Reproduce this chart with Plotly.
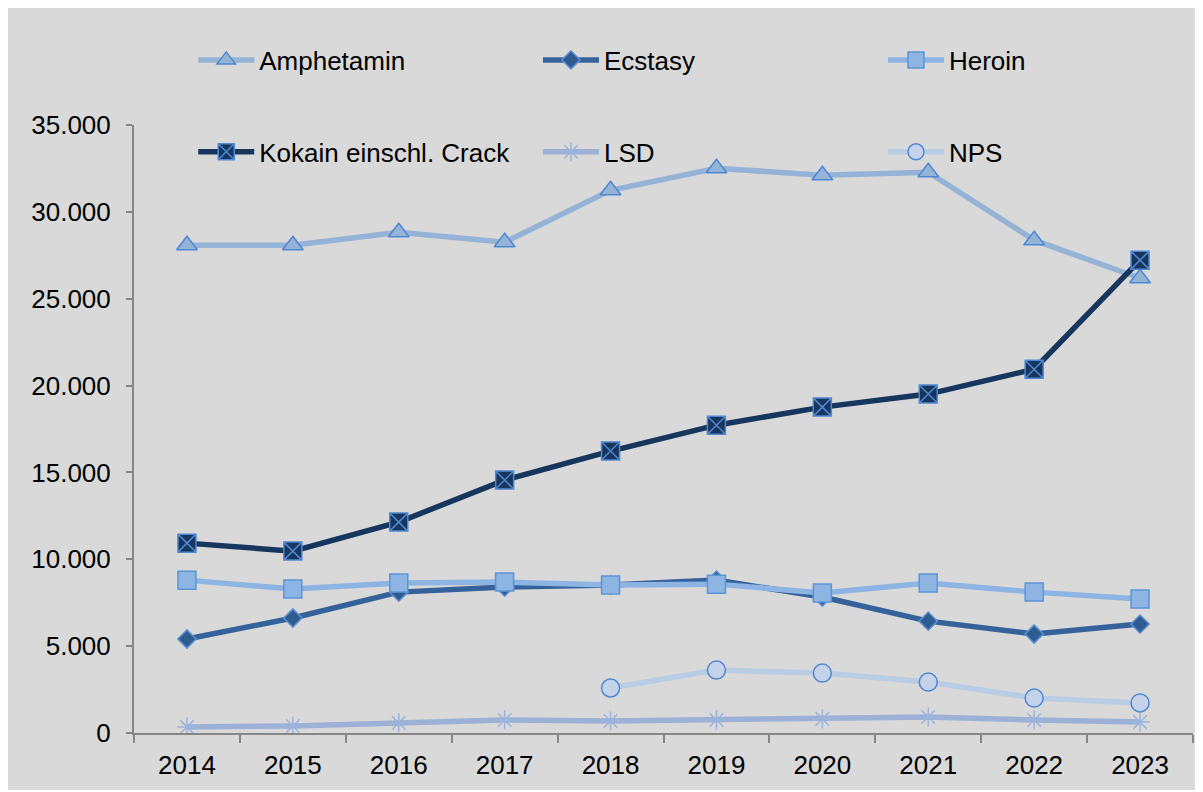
import plotly.graph_objects as go

WIDTH = 1195
HEIGHT = 782

years = ["2014", "2015", "2016", "2017", "2018", "2019", "2020", "2021", "2022", "2023"]

amphetamin = [28080, 28080, 28830, 28250, 31240, 32510, 32110, 32280, 28370, 26180]
ecstasy = [5410, 6620, 8110, 8400, 8520, 8800, 7830, 6440, 5700, 6270]
heroin = [8800, 8290, 8630, 8690, 8520, 8570, 8060, 8630, 8110, 7710]
kokain = [10930, 10470, 12140, 14560, 16230, 17720, 18760, 19510, 20940, 27220]
lsd = [350, 400, 580, 750, 690, 750, 810, 920, 750, 630]
nps_years = ["2018", "2019", "2020", "2021", "2022", "2023"]
nps = [2590, 3620, 3450, 2930, 2010, 1730]

y_ticks = [0, 5000, 10000, 15000, 20000, 25000, 30000, 35000]
y_labels = ["0", "5.000", "10.000", "15.000", "20.000", "25.000", "30.000", "35.000"]

FONT = "Liberation Sans, Arial, sans-serif"

fig = go.Figure()


def add_series(name, x, y, line_color, symbol, size, fill, edge, legend):
    fig.add_trace(go.Scatter(
        name=name, x=x, y=y, mode="lines+markers",
        line=dict(color=line_color, width=5.5),
        marker=dict(symbol=symbol, size=size, color=fill,
                    line=dict(color=edge, width=1.5)),
        legend=legend, showlegend=True,
    ))


add_series("Amphetamin", years, amphetamin, "#95b3d7", "triangle-up", 18, "#95b3d7", "#4f87d3", "legend")
add_series("Ecstasy", years, ecstasy, "#35629a", "diamond", 14, "#2e5c91", "#5b8fd4", "legend2")
add_series("Heroin", years, heroin, "#8db4e2", "square", 18, "#8db4e2", "#5b95d8", "legend3")
add_series("Kokain einschl. Crack", years, kokain, "#17365d", "square-x", 18, "#17365d", "#4f87d3", "legend4")
add_series("LSD", years, lsd, "#9cb1d5", "asterisk-open", 16, "#9cb4dc", "#9cb4dc", "legend5")
add_series("NPS", nps_years, nps, "#b8cce4", "circle", 18, "#c5d3ea", "#4f87d3", "legend6")

legend_style = dict(
    orientation="h", xref="container", yref="container",
    xanchor="left", yanchor="middle",
    font=dict(family=FONT, size=26, color="black"),
    bgcolor="rgba(0,0,0,0)", itemwidth=56,
    itemclick=False, itemdoubleclick=False,
)

# legend grid: 3 columns, 2 rows
col_x = [0.155, 0.4435, 0.7322]
row_y = [0.9335, 0.816]

fig.update_layout(
    width=WIDTH, height=HEIGHT,
    showlegend=True,
    margin=dict(l=126, r=10, t=117, b=57, autoexpand=False),
    paper_bgcolor="#d9d9d9", plot_bgcolor="#d9d9d9",
    font=dict(family=FONT, size=26, color="black"),
    legend=dict(x=col_x[0], y=row_y[0], **legend_style),
    legend2=dict(x=col_x[1], y=row_y[0], **legend_style),
    legend3=dict(x=col_x[2], y=row_y[0], **legend_style),
    legend4=dict(x=col_x[0], y=row_y[1], **legend_style),
    legend5=dict(x=col_x[1], y=row_y[1], **legend_style),
    legend6=dict(x=col_x[2], y=row_y[1], **legend_style),
    xaxis=dict(
        type="category", categoryorder="array", categoryarray=years,
        range=[-0.5, len(years) - 0.5],
        showgrid=False, showline=True, linecolor="#868686", linewidth=2,
        ticks="outside", tickson="boundaries", ticklen=8, tickcolor="#868686", tickwidth=2,
        tickfont=dict(size=26), ticklabelstandoff=8, zeroline=False,
    ),
    yaxis=dict(
        range=[0, 35000], tickvals=y_ticks, ticktext=y_labels,
        showgrid=False, showline=True, linecolor="#868686", linewidth=2,
        ticks="outside", ticklen=6, tickcolor="#868686", tickwidth=2,
        tickfont=dict(size=26), ticklabelstandoff=10, zeroline=False,
    ),
)

fig.write_html("out.html")
